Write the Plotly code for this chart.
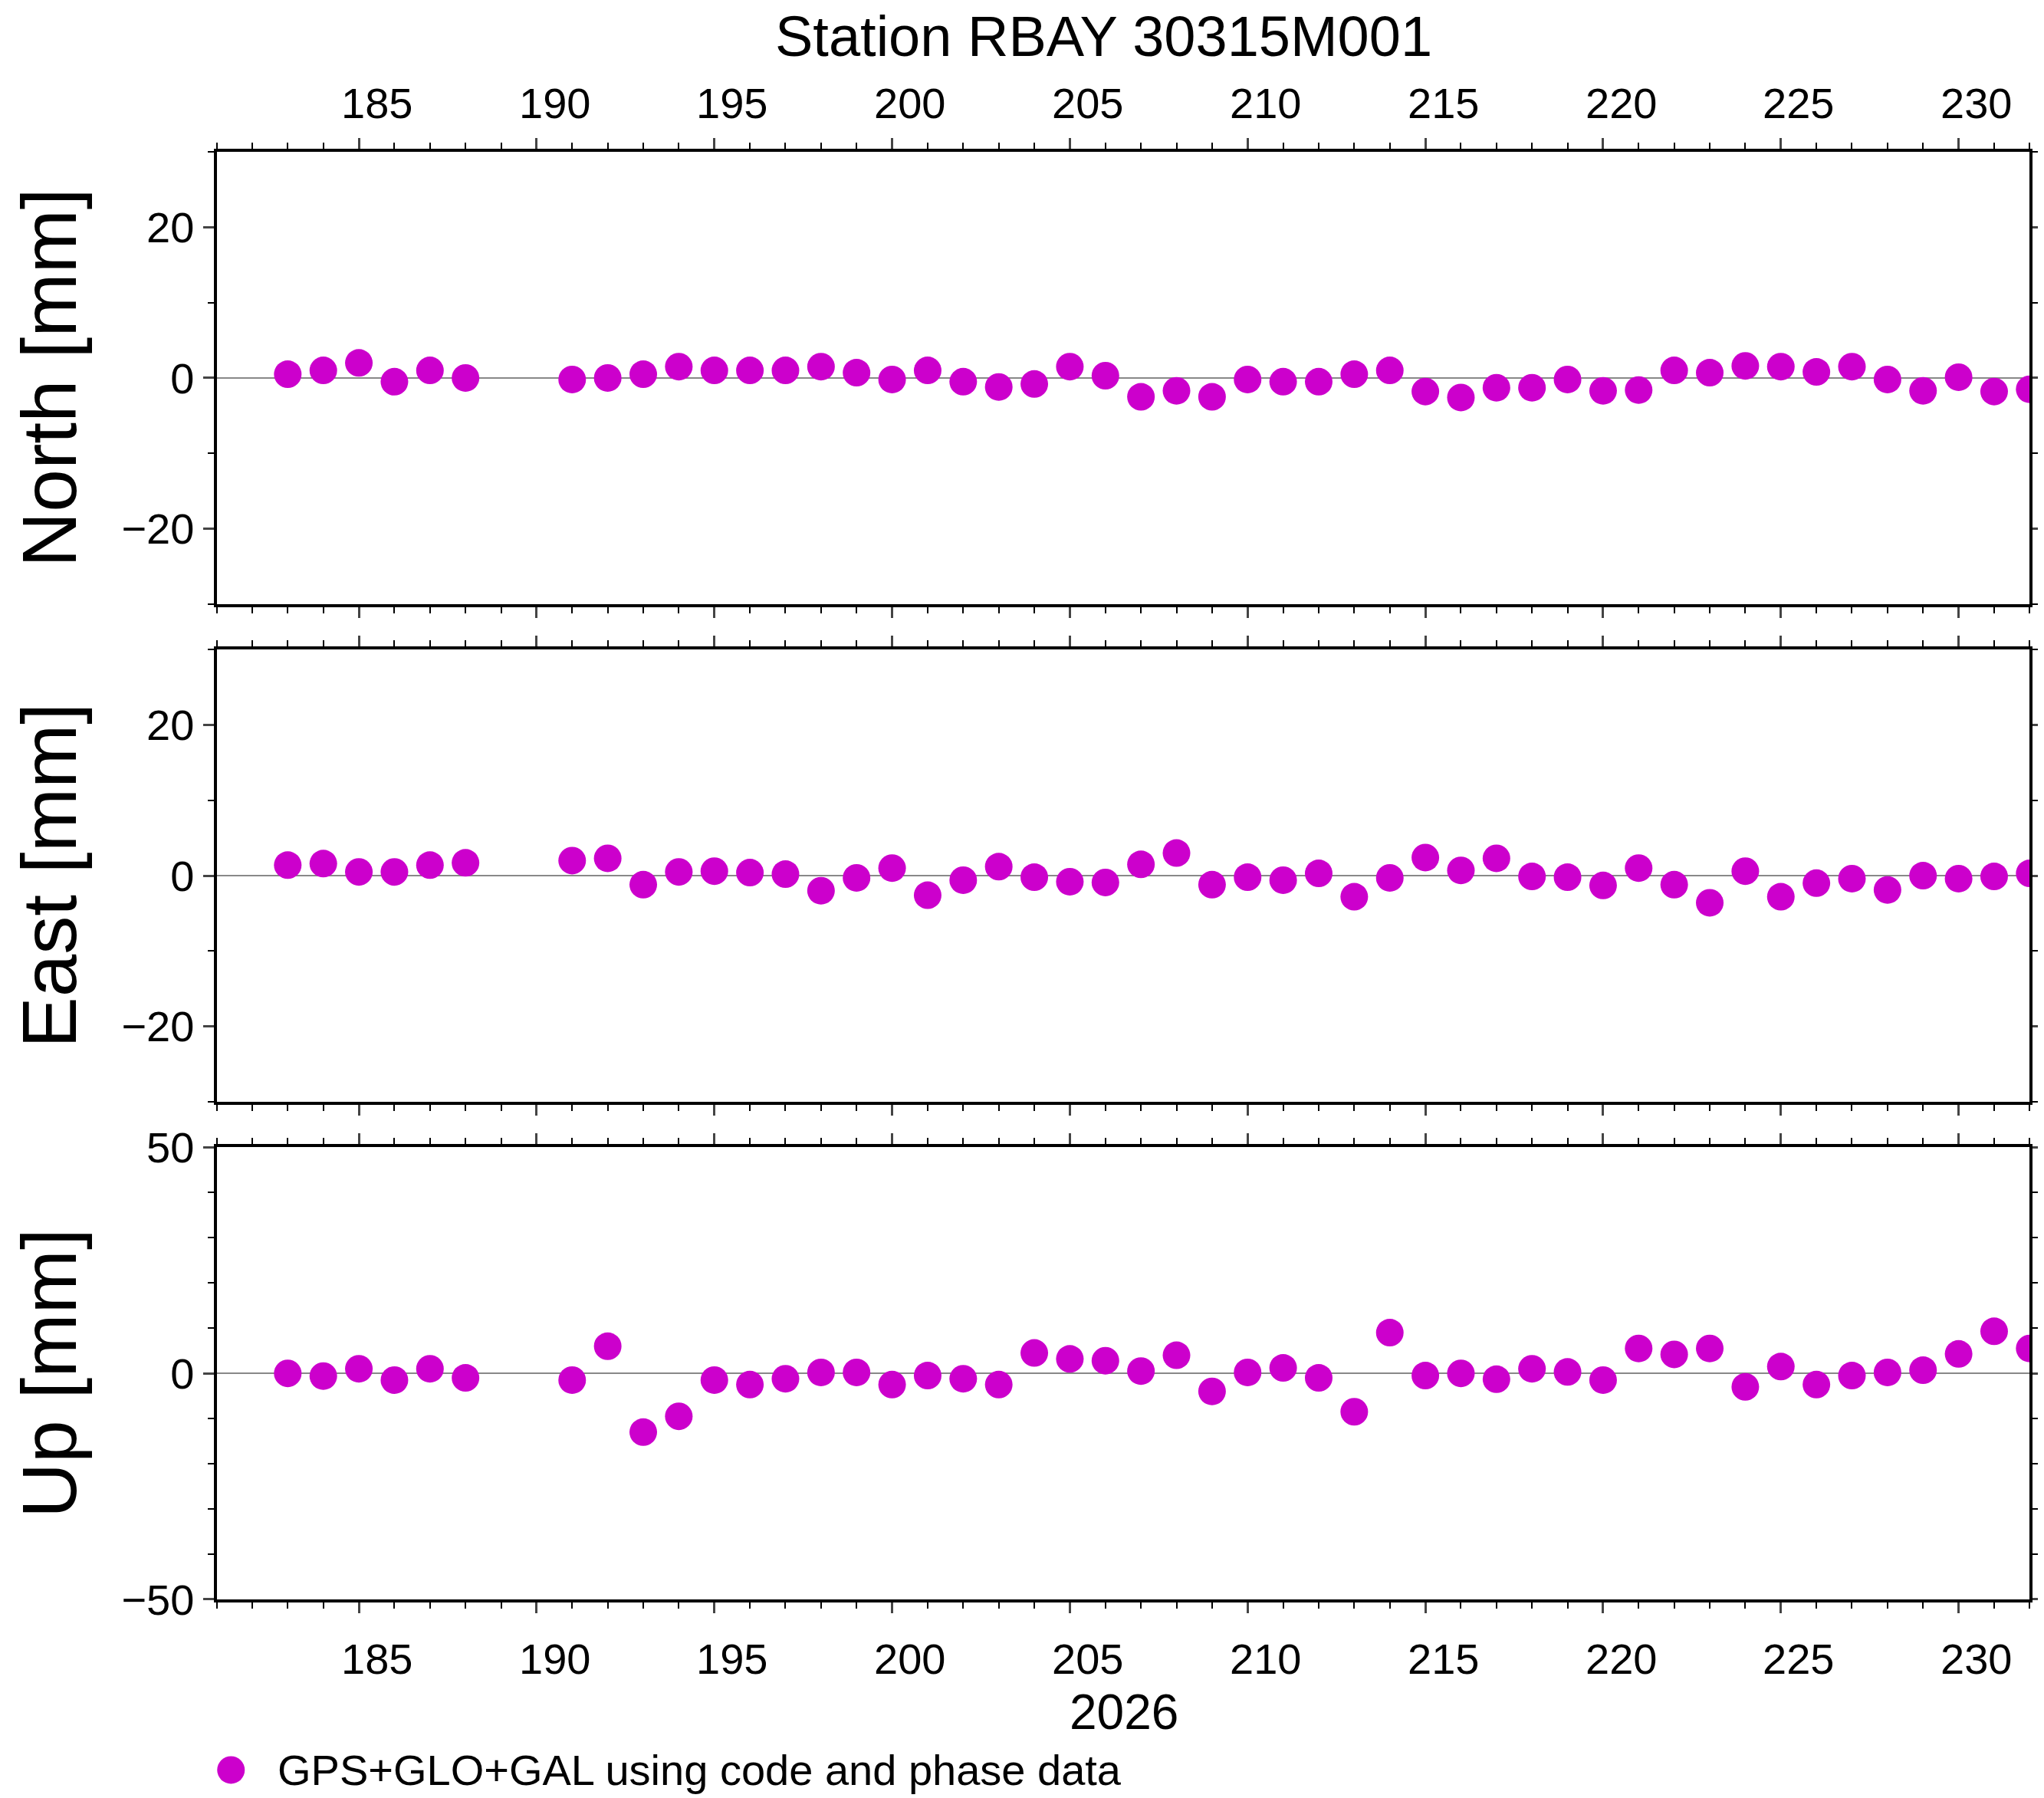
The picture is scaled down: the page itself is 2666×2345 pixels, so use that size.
import plotly.graph_objects as go

days = [183, 184, 185, 186, 187, 188, 191, 192, 193, 194, 195, 196, 197, 198, 199, 200,
        201, 202, 203, 204, 205, 206, 207, 208, 209, 210, 211, 212, 213, 214, 215, 216,
        217, 218, 219, 220, 221, 222, 223, 224, 225, 226, 227, 228, 229, 230, 231, 232]
north = [0.5, 1, 2, -0.5, 1, 0, -0.2, 0, 0.5, 1.5, 1, 1, 1, 1.5, 0.7, -0.2,
         1, -0.5, -1.2, -0.8, 1.5, 0.3, -2.5, -1.7, -2.5, -0.2, -0.5, -0.5, 0.5, 1, -1.8, -2.6,
         -1.3, -1.3, -0.2, -1.7, -1.6, 1, 0.7, 1.6, 1.5, 0.8, 1.5, -0.2, -1.7, 0.1, -1.8, -1.5]
east = [1.4, 1.6, 0.5, 0.5, 1.4, 1.7, 2, 2.3, -1.2, 0.5, 0.6, 0.4, 0.2, -2, -0.3, 1,
        -2.6, -0.6, 1.2, -0.2, -0.8, -0.9, 1.5, 3, -1.2, -0.2, -0.6, 0.3, -2.8, -0.3, 2.4, 0.7,
        2.3, -0.1, -0.2, -1.3, 1, -1.2, -3.6, 0.6, -2.8, -1, -0.4, -1.9, 0, -0.4, -0.1, 0.3]
up = [0, -0.6, 1, -1.5, 1, -1, -1.5, 6, -13, -9.5, -1.5, -2.5, -1.2, 0.2, 0.2, -2.5,
      -0.5, -1.2, -2.5, 4.5, 3.2, 2.8, 0.5, 4, -4, 0.2, 1.2, -1, -8.5, 9, -0.5, 0,
      -1.3, 1, 0.3, -1.5, 5.5, 4.2, 5.5, -3, 1.5, -2.5, -0.5, 0.2, 0.7, 4.3, 9.3, 5.5]
x_labels = [185, 190, 195, 200, 205, 210, 215, 220, 225, 230]
legend_text = "GPS+GLO+GAL using code and phase data"

FONT = "Liberation Sans"
COLOR = "#cc00cc"
panels = [("North [mm]", north, [-30, 30], 20, 10, [0.6675, 0.9189]),
          ("East [mm]", east, [-30, 30], 20, 10, [0.3907, 0.6421]),
          ("Up [mm]", up, [-50, 50], 50, 10, [0.1139, 0.3653])]


def label(x, y, text, size, xref="paper", **kw):
    return dict(x=x, y=y, xref=xref, yref="paper", text=text, showarrow=False,
                xanchor=kw.pop("xanchor", "center"), yanchor="middle",
                font=dict(size=size, family=FONT, color="black"), **kw)


fig = go.Figure()
annotations = []
for i, (name, vals, rng, major, minor, dom) in enumerate(panels):
    n = i + 1
    fig.add_trace(go.Scatter(
        x=days, y=vals, mode="markers", xaxis=f"x{n}", yaxis=f"y{n}",
        marker=dict(color=COLOR, size=36), showlegend=False, name=legend_text))
    fig.layout[f"xaxis{n}"] = dict(
        domain=[0.103, 0.990], range=[181, 232], anchor=f"y{n}", automargin=False,
        tickvals=x_labels, ticktext=[""] * len(x_labels), ticks="outside",
        ticklen=14, tickwidth=3, showline=True, linewidth=4, linecolor="black",
        mirror="allticks", showgrid=False, zeroline=False,
        minor=dict(dtick=1, tick0=181, ticks="outside", ticklen=8, tickwidth=2, tickcolor="black"))
    fig.layout[f"yaxis{n}"] = dict(
        domain=dom, range=rng, anchor=f"x{n}", dtick=major, ticks="outside", automargin=False,
        ticklen=14, tickwidth=3, showline=True, linewidth=4, linecolor="black",
        mirror="ticks", showgrid=False, zeroline=True, zerolinecolor="#888888",
        zerolinewidth=1.5, tickfont=dict(size=56, family=FONT, color="black"),
        minor=dict(dtick=minor, ticks="outside", ticklen=8, tickwidth=2, tickcolor="black"))
    annotations.append(label(0.021, (dom[0] + dom[1]) / 2, name, 100, textangle=-90))

# legend marker drawn on its own small axis so it keeps full size
fig.add_trace(go.Scatter(x=[0], y=[0], mode="markers", xaxis="x4", yaxis="y4",
                         marker=dict(color=COLOR, size=36), showlegend=False, hoverinfo="skip"))
fig.layout["xaxis4"] = dict(domain=[0.09, 0.13], range=[-1, 1], visible=False, anchor="y4")
fig.layout["yaxis4"] = dict(domain=[0.004, 0.034], range=[-1, 1], visible=False, anchor="x4")

for v in x_labels:
    annotations.append(label(v + 0.5, 0.946, str(v), 56, xref="x1"))
    annotations.append(label(v + 0.5, 0.081, str(v), 56, xref="x1"))
annotations.append(label(0.547, 0.051, "2026", 64))
annotations.append(label(0.537, 0.983, "Station RBAY 30315M001", 74))
annotations.append(label(0.132, 0.019, legend_text, 56, xanchor="left"))

fig.update_layout(
    width=2666, height=2345, margin=dict(l=0, r=0, t=0, b=0),
    plot_bgcolor="white", paper_bgcolor="white", annotations=annotations, showlegend=False,
)
fig.write_html("out.html")
